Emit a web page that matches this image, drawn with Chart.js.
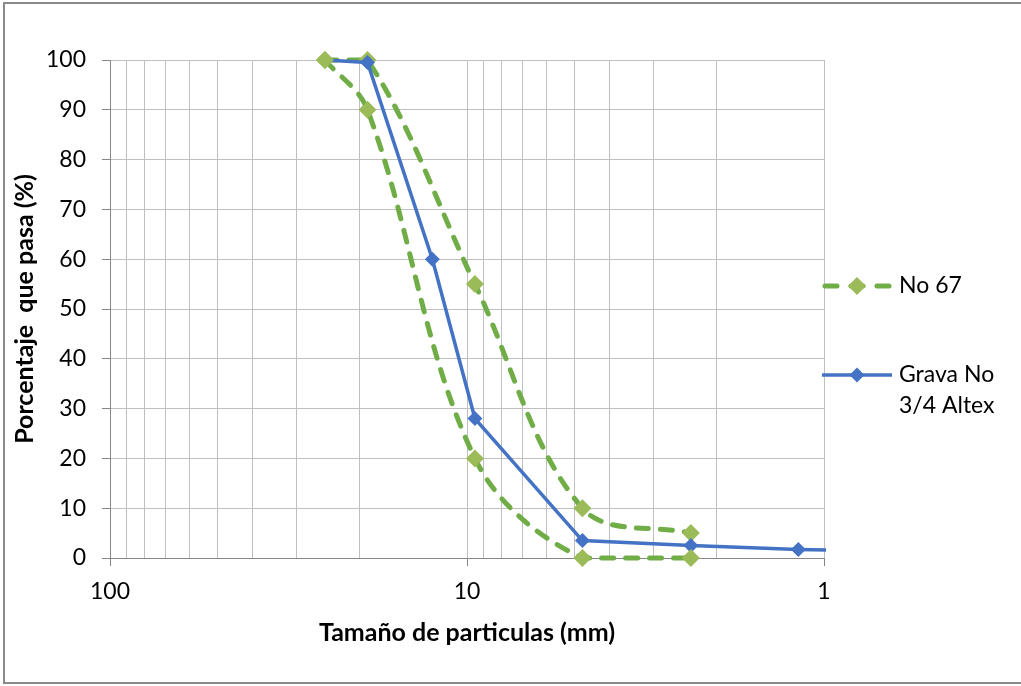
<!DOCTYPE html>
<html>
<head>
<meta charset="utf-8">
<script src="https://cdn.jsdelivr.net/npm/chart.js@4.4.0/dist/chart.umd.min.js"></script>
<style>
html,body{margin:0;padding:0;background:#fff;}
#wrap{width:1021px;height:686px;position:relative;}
</style>
</head>
<body>
<div id="wrap"><canvas id="c" width="1021" height="686"></canvas></div>
<script>
// ---- data ----
const seriesNames = ['No 67', 'Grava No 3/4 Altex'];
const legendLines = [['No 67'], ['Grava No', '3/4 Altex']];
// No 67 specification band: lower and upper limits
const no67LowerSizes = [25, 19, 9.5, 4.75, 2.36];
const no67LowerPass  = [100, 90, 20, 0, 0];
const no67UpperSizes = [25, 19, 9.5, 4.75, 2.36];
const no67UpperPass  = [100, 100, 55, 10, 5];
// Grava No 3/4 Altex
const gravaSizes = [25, 19, 12.5, 9.5, 4.75, 2.36, 1.18, 0.6];
const gravaPass  = [100, 99.5, 60, 28, 3.5, 2.5, 1.7, 1.3];
// axes
const xTickValues = [1,2,3,4,5,6,7,8,9,10,20,30,40,50,60,70,80,90,100];
const xTickLabels = {1:'1', 10:'10', 100:'100'};
const yMin = 0, yMax = 100, yStep = 10;
const xTitle = 'Tamaño de particulas (mm)';
const yTitle = 'Porcentaje  que pasa (%)';

const GREEN_LINE = '#70AD47', GREEN_MARK = '#9BBB59', BLUE = '#4472C4';
const toPts = (xs, ys) => xs.map((x, i) => ({x: x, y: ys[i]}));
const FONT = 'Lato';
const CLIP = {left: 20, top: 20, right: 2, bottom: 20};

const greenStyle = {
  borderColor: GREEN_LINE, borderWidth: 5, borderDash: [12, 12], borderCapStyle: 'round',
  pointStyle: 'rectRot', pointRadius: 9, pointHoverRadius: 9,
  pointBackgroundColor: GREEN_MARK, pointBorderColor: GREEN_MARK, pointBorderWidth: 0,
  showLine: true, tension: 0.35, fill: false, clip: CLIP
};

const bgPlugin = {
  id: 'bgFrame',
  beforeDraw(chart) {
    const ctx = chart.ctx;
    ctx.save();
    ctx.fillStyle = '#fff';
    ctx.fillRect(0, 0, chart.width, chart.height);
    ctx.strokeStyle = '#8A8A8A';
    ctx.lineWidth = 2;
    ctx.beginPath();
    ctx.moveTo(1030, 3);
    ctx.lineTo(4, 3);
    ctx.lineTo(4, 683);
    ctx.lineTo(1030, 683);
    ctx.stroke();
    ctx.restore();
  }
};

function diamond(ctx, x, y, r, color) {
  ctx.fillStyle = color;
  ctx.beginPath();
  ctx.moveTo(x, y - r); ctx.lineTo(x + r, y); ctx.lineTo(x, y + r); ctx.lineTo(x - r, y);
  ctx.closePath(); ctx.fill();
}

const legendPlugin = {
  id: 'customLegend',
  afterDraw(chart) {
    const ctx = chart.ctx;
    const items = [
      {ds: 0, lines: legendLines[0], y: 286},
      {ds: 2, lines: legendLines[1], y: 375}
    ];
    items.forEach(it => {
      const d = chart.data.datasets[it.ds];
      ctx.save();
      ctx.strokeStyle = d.borderColor;
      ctx.lineWidth = d.borderWidth;
      ctx.lineCap = d.borderDash ? 'round' : 'butt';
      ctx.setLineDash(d.borderDash ? [12, 14] : []);
      ctx.beginPath();
      if (d.borderDash) { ctx.moveTo(825, it.y); ctx.lineTo(890, it.y); }
      else { ctx.moveTo(822, it.y); ctx.lineTo(892, it.y); }
      ctx.stroke();
      ctx.setLineDash([]);
      diamond(ctx, 857, it.y, d.pointRadius, d.pointBackgroundColor);
      ctx.fillStyle = '#000';
      ctx.font = '23px ' + FONT;
      ctx.textBaseline = 'middle';
      ctx.textAlign = 'left';
      it.lines.forEach((t, i) => ctx.fillText(t, 899, it.y + i * 31));
      ctx.restore();
    });
  }
};

new Chart(document.getElementById('c'), {
  type: 'scatter',
  data: {
    datasets: [
      Object.assign({label: seriesNames[0], data: toPts(no67LowerSizes, no67LowerPass)}, greenStyle, {order: -1}),
      Object.assign({label: seriesNames[0] + ' (sup)', data: toPts(no67UpperSizes, no67UpperPass)}, greenStyle, {order: 1}),
      {
        label: seriesNames[1], data: toPts(gravaSizes, gravaPass),
        borderColor: BLUE, borderWidth: 3.5, showLine: true, tension: 0,
        pointStyle: 'rectRot', pointRadius: 7.5, pointHoverRadius: 7.5,
        pointBackgroundColor: BLUE, pointBorderColor: BLUE, pointBorderWidth: 0,
        order: 0, fill: false, clip: CLIP
      }
    ]
  },
  options: {
    responsive: false,
    animation: false,
    events: [],
    layout: {padding: {left: 0, top: 60, right: 197, bottom: 0}},
    plugins: {legend: {display: false}, tooltip: {enabled: false}, title: {display: false}},
    scales: {
      x: {
        type: 'logarithmic', reverse: true, min: 1, max: 100,
        afterBuildTicks(s) { s.ticks = xTickValues.map(v => ({value: v, major: v in xTickLabels})); },
        afterFit(s) { s.height = 128; },
        ticks: {
          autoSkip: false, maxRotation: 0, minRotation: 0, padding: 12,
          color: '#000', font: {family: FONT, size: 23},
          callback: (v) => xTickLabels[v] || ''
        },
        grid: {
          color: '#BFBFBF', lineWidth: 1, tickLength: 8,
          tickColor: (c) => (c.tick && (c.tick.value in xTickLabels)) ? '#868686' : 'rgba(0,0,0,0)'
        },
        border: {color: '#868686', width: 1},
        title: {display: true, text: xTitle, color: '#000',
          font: {family: FONT, size: 25, weight: 'bold'}, padding: {top: 0, bottom: 38}}
      },
      y: {
        min: yMin, max: yMax,
        afterFit(s) { s.width = 110; },
        ticks: {stepSize: yStep, color: '#000', font: {family: FONT, size: 23}, padding: 16},
        grid: {color: '#BFBFBF', lineWidth: 1, tickLength: 8, tickColor: '#868686'},
        border: {color: '#868686', width: 1},
        title: {display: true, text: yTitle, color: '#000',
          font: {family: FONT, size: 25, weight: 'bold'}, padding: {top: 10, bottom: 0}}
      }
    }
  },
  plugins: [bgPlugin, legendPlugin]
});
</script>
</body>
</html>
